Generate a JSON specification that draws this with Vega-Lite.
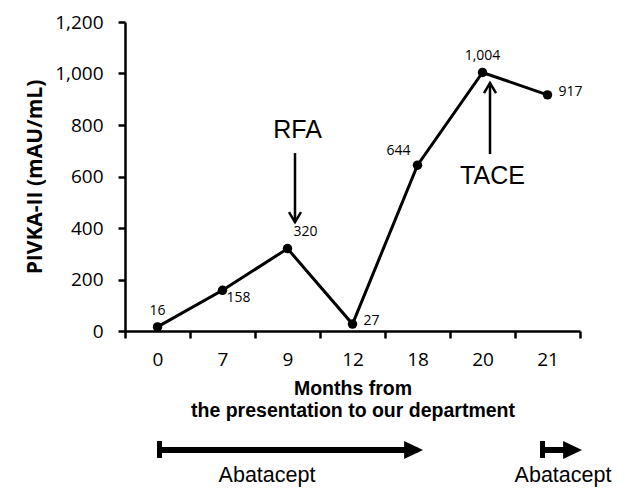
{
  "$schema": "https://vega.github.io/schema/vega-lite/v6.json",
  "width": 455,
  "height": 309,
  "autosize": {"type": "none"},
  "padding": {"left": 125, "top": 22, "right": 45, "bottom": 157},
  "background": "white",
  "config": {
    "view": {"stroke": null},
    "axis": {
      "domainColor": "black", "domainWidth": 2.5, "tickColor": "black", "tickWidth": 2.5, "tickSize": 7,
      "grid": false, "labelColor": "black", "titleColor": "black", "labelFont": "Open Sans", "labelFontSize": 19
    }
  },
  "encoding": {
    "x": {
      "field": "month", "type": "ordinal",
      "scale": {"type": "band", "domain": ["0", "7", "9", "12", "18", "20", "21"], "paddingInner": 0, "paddingOuter": 0},
      "axis": {
        "tickBand": "extent", "labelAngle": 0, "labelPadding": 12,
        "title": ["Months from", "the presentation to our department"],
        "titleFont": "Liberation Sans", "titleFontSize": 19.5, "titleFontWeight": "bold",
        "titleLineHeight": 22, "titlePadding": 10
      }
    },
    "y": {
      "field": "v", "type": "quantitative",
      "scale": {"domain": [0, 1200], "nice": false},
      "axis": {
        "values": [0, 200, 400, 600, 800, 1000, 1200], "format": ",.0f", "labelPadding": 15,
        "title": "PIVKA-II (mAU/mL)", "titleFont": "Open Sans", "titleFontSize": 21,
        "titleFontWeight": "bold", "titlePadding": 9
      }
    }
  },
  "datasets": {
    "main": [
      {"month": "0", "v": 16}, {"month": "7", "v": 158}, {"month": "9", "v": 320},
      {"month": "12", "v": 27}, {"month": "18", "v": 644}, {"month": "20", "v": 1004},
      {"month": "21", "v": 917}
    ],
    "procArrows": [
      {"name": "RFA", "month": "9", "v": 691, "v2": 423},
      {"name": "TACE", "month": "20", "v": 687, "v2": 963}
    ],
    "procLabels": [
      {"name": "RFA", "month": "9", "v": 780},
      {"name": "TACE", "month": "20", "v": 602}
    ],
    "barLines": [
      {"month": "0", "month2": "18", "v": -462}
    ],
    "barLines2": [
      {"month": "21", "month2": "21", "v": -462}
    ],
    "barStarts": [
      {"month": "0", "v": -427, "v2": -493}
    ],
    "barStarts2": [
      {"month": "21", "v": -427, "v2": -493}
    ],
    "barHeads": [
      {"month": "18", "v": -462}
    ],
    "barHeads2": [
      {"month": "21", "v": -462}
    ],
    "barLabels": [
      {"month": "9", "v": -587, "name": "Abatacept"}
    ],
    "barLabels2": [
      {"month": "21", "v": -587, "name": "Abatacept"}
    ]
  },
  "layer": [
    {"data": {"name": "main"}, "mark": {"type": "line", "color": "black", "strokeWidth": 3}},
    {"data": {"name": "main"}, "mark": {"type": "point", "filled": true, "shape": "circle", "size": 90, "color": "black", "opacity": 1}},
    {"data": {"name": "main"}, "transform": [{"filter": {"field": "month", "oneOf": ["0", "20"]}}],
     "mark": {"type": "text", "font": "Open Sans", "fontSize": 14, "color": "black", "align": "center", "baseline": "middle", "dy": -16},
     "encoding": {"text": {"field": "v", "type": "quantitative", "format": ",.0f"}}},
    {"data": {"name": "main"}, "transform": [{"filter": {"field": "month", "equal": "7"}}],
     "mark": {"type": "text", "font": "Open Sans", "fontSize": 14, "color": "black", "align": "left", "baseline": "middle", "dx": 4, "dy": 8},
     "encoding": {"text": {"field": "v", "type": "quantitative", "format": ",.0f"}}},
    {"data": {"name": "main"}, "transform": [{"filter": {"field": "month", "equal": "9"}}],
     "mark": {"type": "text", "font": "Open Sans", "fontSize": 14, "color": "black", "align": "left", "baseline": "middle", "dx": 6, "dy": -17},
     "encoding": {"text": {"field": "v", "type": "quantitative", "format": ",.0f"}}},
    {"data": {"name": "main"}, "transform": [{"filter": {"field": "month", "oneOf": ["12", "21"]}}],
     "mark": {"type": "text", "font": "Open Sans", "fontSize": 14, "color": "black", "align": "left", "baseline": "middle", "dx": 11, "dy": -3},
     "encoding": {"text": {"field": "v", "type": "quantitative", "format": ",.0f"}}},
    {"data": {"name": "main"}, "transform": [{"filter": {"field": "month", "equal": "18"}}],
     "mark": {"type": "text", "font": "Open Sans", "fontSize": 14, "color": "black", "align": "right", "baseline": "middle", "dx": -7, "dy": -14},
     "encoding": {"text": {"field": "v", "type": "quantitative", "format": ",.0f"}}},
    {"data": {"name": "procArrows"}, "mark": {"type": "rule", "color": "black", "strokeWidth": 2.5, "xOffset": 7.5},
     "encoding": {"y2": {"field": "v2"}}},
    {"data": {"name": "procArrows"}, "transform": [{"filter": {"field": "name", "equal": "RFA"}}],
     "mark": {"type": "point", "shape": "M-0.6,-1L0,0L0.6,-1", "size": 400, "filled": false, "color": "black", "strokeWidth": 2.5, "opacity": 1, "xOffset": 7.5},
     "encoding": {"y": {"field": "v2", "type": "quantitative"}}},
    {"data": {"name": "procArrows"}, "transform": [{"filter": {"field": "name", "equal": "TACE"}}],
     "mark": {"type": "point", "shape": "M-0.6,1L0,0L0.6,1", "size": 400, "filled": false, "color": "black", "strokeWidth": 2.5, "opacity": 1, "xOffset": 7.5},
     "encoding": {"y": {"field": "v2", "type": "quantitative"}}},
    {"data": {"name": "procLabels"}, "mark": {"type": "text", "font": "Liberation Sans", "fontSize": 25, "color": "black", "align": "center", "baseline": "middle", "xOffset": 10},
     "encoding": {"text": {"field": "name"}}},
    {"data": {"name": "barLines"}, "mark": {"type": "rule", "color": "black", "strokeWidth": 6},
     "encoding": {"x2": {"field": "month2"}}},
    {"data": {"name": "barLines2"}, "mark": {"type": "rule", "color": "black", "strokeWidth": 6, "xOffset": -5, "x2Offset": 28},
     "encoding": {"x2": {"field": "month2"}}},
    {"data": {"name": "barStarts"}, "mark": {"type": "rule", "color": "black", "strokeWidth": 5, "xOffset": 2},
     "encoding": {"y2": {"field": "v2"}}},
    {"data": {"name": "barStarts2"}, "mark": {"type": "rule", "color": "black", "strokeWidth": 5, "xOffset": -5},
     "encoding": {"y2": {"field": "v2"}}},
    {"data": {"name": "barHeads"}, "mark": {"type": "point", "shape": "M-2.1,-1L0,0L-2.1,1Z", "size": 324, "filled": true, "color": "black", "opacity": 1, "xOffset": 5.5}},
    {"data": {"name": "barHeads2"}, "mark": {"type": "point", "shape": "M-2.1,-1L0,0L-2.1,1Z", "size": 324, "filled": true, "color": "black", "opacity": 1, "xOffset": 34.5}},
    {"data": {"name": "barLabels"}, "mark": {"type": "text", "font": "Liberation Sans", "fontSize": 21.5, "color": "black", "align": "center", "baseline": "alphabetic", "xOffset": -20.5},
     "encoding": {"text": {"field": "name"}}},
    {"data": {"name": "barLabels2"}, "mark": {"type": "text", "font": "Liberation Sans", "fontSize": 21.5, "color": "black", "align": "center", "baseline": "alphabetic", "xOffset": 15.5},
     "encoding": {"text": {"field": "name"}}}
  ]
}
